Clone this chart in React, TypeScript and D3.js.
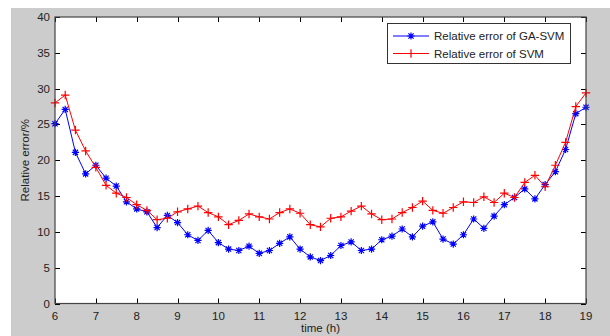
import * as d3 from 'd3';

// sampling times (h), every quarter hour
const TIMES = [
  6, 6.25, 6.5, 6.75, 7, 7.25, 7.5, 7.75, 8, 8.25, 8.5, 8.75, 9, 9.25, 9.5, 9.75,
  10, 10.25, 10.5, 10.75, 11, 11.25, 11.5, 11.75, 12, 12.25, 12.5, 12.75, 13, 13.25,
  13.5, 13.75, 14, 14.25, 14.5, 14.75, 15, 15.25, 15.5, 15.75, 16, 16.25, 16.5, 16.75,
  17, 17.25, 17.5, 17.75, 18, 18.25, 18.5, 18.75, 19,
];

// relative error of GA-SVM (%)
const GA_SVM = [
  25.1, 27.1, 21.1, 18.1, 19.3, 17.5, 16.4, 14.2, 13.2, 12.8, 10.6, 12.3, 11.3, 9.6, 8.8, 10.2,
  8.5, 7.6, 7.4, 8.0, 7.0, 7.4, 8.4, 9.3, 7.6, 6.5, 6.0, 6.7, 8.1, 8.6,
  7.4, 7.6, 8.9, 9.4, 10.4, 9.3, 10.8, 11.4, 9.0, 8.3, 9.6, 11.8, 10.5, 12.2,
  13.8, 14.8, 16.0, 14.6, 16.6, 18.4, 21.5, 26.5, 27.4,
];

// relative error of SVM (%)
const SVM = [
  28.0, 29.1, 24.2, 21.3, 19.0, 16.5, 15.4, 14.8, 13.8, 13.0, 11.7, 11.9, 12.8, 13.2, 13.6, 12.7,
  12.1, 11.0, 11.6, 12.5, 12.1, 11.8, 12.7, 13.2, 12.6, 11.0, 10.7, 11.9, 12.1, 12.9,
  13.6, 12.5, 11.7, 11.8, 12.7, 13.4, 14.3, 13.0, 12.6, 13.4, 14.2, 14.1, 14.9, 14.1,
  15.4, 14.8, 16.9, 17.9, 16.3, 19.3, 22.5, 27.5, 29.4,
];

const X_TICKS = [6, 7, 8, 9, 10, 11, 12, 13, 14, 15, 16, 17, 18, 19];
const Y_TICKS = [0, 5, 10, 15, 20, 25, 30, 35, 40];

const W = 610;
const H = 336;
const FONT = 'Liberation Sans, Arial, sans-serif';
const plot = { left: 55, right: 586, top: 17, bottom: 303.5 };

const x = d3.scaleLinear().domain([6, 19]).range([plot.left, plot.right]);
const y = d3.scaleLinear().domain([0, 40]).range([plot.bottom, plot.top]);

function starPath(cx: number, cy: number, r: number) {
  const d = r * 0.72;
  return `M${cx - r},${cy}H${cx + r}M${cx},${cy - r}V${cy + r}` +
    `M${cx - d},${cy - d}L${cx + d},${cy + d}M${cx - d},${cy + d}L${cx + d},${cy - d}`;
}

function plusPath(cx: number, cy: number, r: number) {
  return `M${cx - r},${cy}H${cx + r}M${cx},${cy - r}V${cy + r}`;
}

export default function App() {
  const line = d3.line<number>().x((_, i) => x(TIMES[i])).y(v => y(v));

  const series = [
    { name: 'Relative error of GA-SVM', values: GA_SVM, color: '#0000ff', marker: starPath, r: 3.6 },
    { name: 'Relative error of SVM', values: SVM, color: '#ff0000', marker: plusPath, r: 4.2 },
  ];

  return (
    <svg width={W} height={H} style={{ position: 'absolute', left: 0, top: 0 }}>
      <rect x={0} y={0} width={W} height={H} fill="#ffffff" />
      <rect x={11} y={8} width={W - 11} height={H - 8} fill="#cccccc" />
      <rect x={plot.left} y={plot.top} width={plot.right - plot.left} height={plot.bottom - plot.top} fill="#ffffff" />

      {/* ticks, inward on all four sides */}
      <g stroke="#000" strokeWidth={1}>
        {X_TICKS.map(t => (
          <g key={'xt' + t}>
            <line x1={Math.round(x(t)) + 0.5} x2={Math.round(x(t)) + 0.5} y1={plot.bottom} y2={plot.bottom - 5} />
            <line x1={Math.round(x(t)) + 0.5} x2={Math.round(x(t)) + 0.5} y1={plot.top} y2={plot.top + 5} />
          </g>
        ))}
        {Y_TICKS.map(t => (
          <g key={'yt' + t}>
            <line x1={plot.left} x2={plot.left + 5} y1={Math.round(y(t)) + 0.5} y2={Math.round(y(t)) + 0.5} />
            <line x1={plot.right} x2={plot.right - 5} y1={Math.round(y(t)) + 0.5} y2={Math.round(y(t)) + 0.5} />
          </g>
        ))}
      </g>

      {series.map(s => (
        <g key={s.name}>
          <path d={line(s.values) ?? ''} fill="none" stroke={s.color} strokeWidth={1} />
          {s.values.map((v, i) => (
            <path key={i} d={s.marker(x(TIMES[i]), y(v), s.r)} stroke={s.color} strokeWidth={1.2} fill="none" />
          ))}
        </g>
      ))}

      <rect x={plot.left} y={plot.top} width={plot.right - plot.left} height={plot.bottom - plot.top}
        fill="none" stroke="#444" strokeWidth={1.2} />

      <g fontFamily={FONT} fontSize={11.5} fill="#222">
        {X_TICKS.map(t => (
          <text key={'xl' + t} x={x(t)} y={320} textAnchor="middle">{t}</text>
        ))}
        {Y_TICKS.map(t => (
          <text key={'yl' + t} x={plot.left - 5} y={y(t) + 4} textAnchor="end">{t}</text>
        ))}
        <text x={(plot.left + plot.right) / 2} y={332} textAnchor="middle">time (h)</text>
        <text transform={`translate(29,${(plot.top + plot.bottom) / 2}) rotate(-90)`} textAnchor="middle">
          Relative error/%
        </text>
      </g>

      {/* legend */}
      <g>
        <rect x={387.5} y={23.5} width={183} height={40} fill="#ffffff" stroke="#333" strokeWidth={1} />
        {series.map((s, i) => {
          const ly = 36 + i * 17.5;
          return (
            <g key={'lg' + s.name}>
              <line x1={393} x2={429} y1={ly} y2={ly} stroke={s.color} strokeWidth={1} />
              <path d={s.marker(411, ly, s.r)} stroke={s.color} strokeWidth={1.2} fill="none" />
              <text x={434} y={ly + 4} fontFamily={FONT} fontSize={11.5} fill="#222">{s.name}</text>
            </g>
          );
        })}
      </g>
    </svg>
  );
}
